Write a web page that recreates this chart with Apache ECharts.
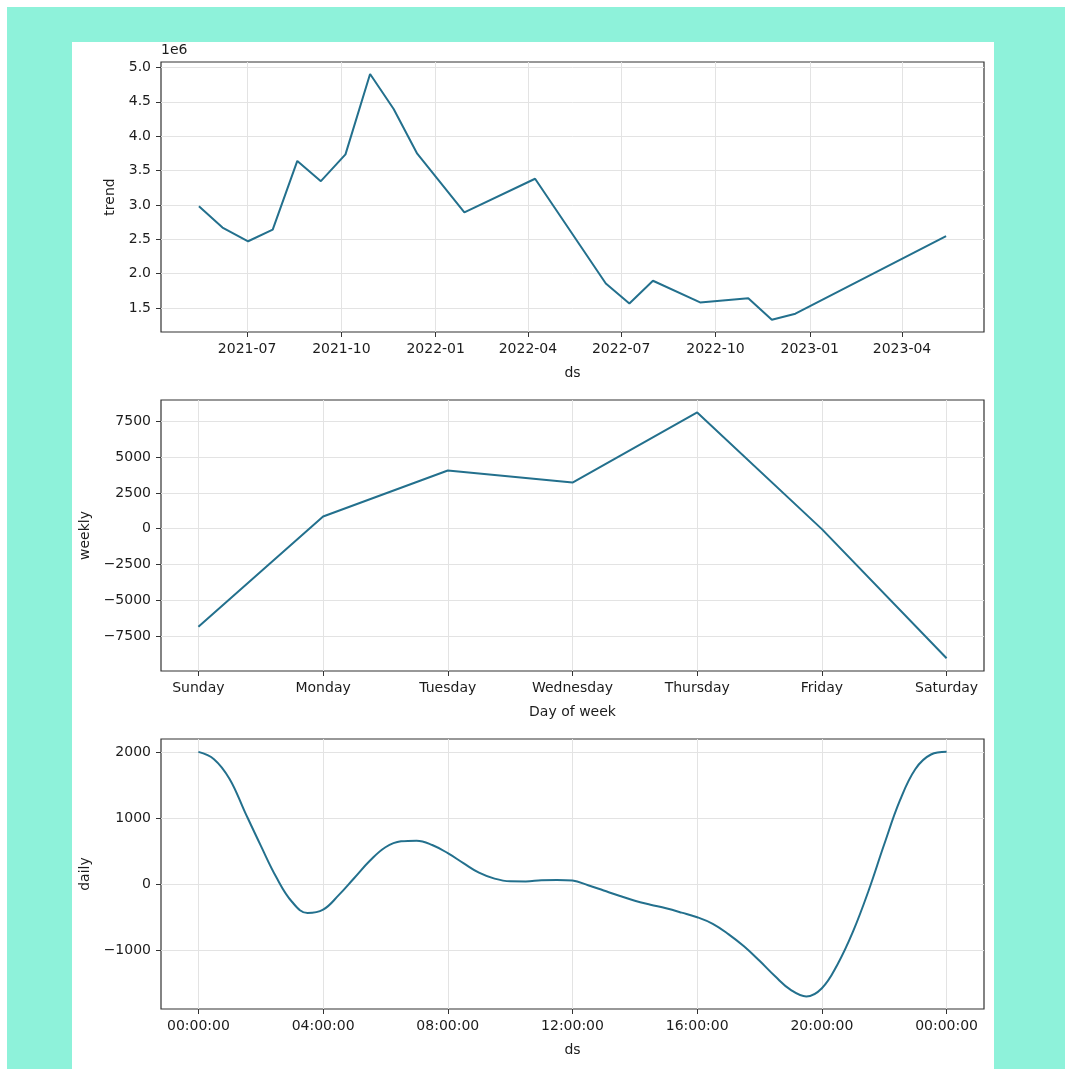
<!DOCTYPE html>
<html lang="en">
<head>
    <meta charset="UTF-8">
    <title>Prophet components</title>
    <script src="https://cdn.jsdelivr.net/npm/echarts@6/dist/echarts.min.js"></script>
    <style>
        html, body {
            margin: 0;
            width: 1065px;
            height: 1069px;
            background: #ffffff;
            overflow: hidden;
        }
        /* teal backdrop + white card behind the chart */
        .teal {
            position: absolute;
            left: 7px; top: 7px; right: 0; bottom: 0;
            background: #8ef2da;
        }
        .card {
            position: absolute;
            left: 72px; top: 42px;
            width: 922px; height: 1027px;
            background: #ffffff;
        }
        #main {
            position: absolute;
            left: 0; top: 0;
            width: 1065px;
            height: 1069px;
        }
    </style>
</head>
<body>
    <div class="teal"></div>
    <div class="card"></div>
    <div id="main"></div>

    <script>
        // trend (changepoint trend, units of 1e6)
        var trendDates = ['2021-05-15', '2021-06-07', '2021-07-02', '2021-07-26', '2021-08-19',
            '2021-09-11', '2021-10-05', '2021-10-29', '2021-11-21', '2021-12-14', '2022-01-29',
            '2022-04-08', '2022-06-16', '2022-07-09', '2022-08-01', '2022-09-16', '2022-11-02',
            '2022-11-25', '2022-12-18', '2023-05-14'];
        var trendValues = [2.98, 2.67, 2.47, 2.64, 3.64, 3.345, 3.735, 4.905, 4.395, 3.745, 2.89,
            3.38, 1.855, 1.565, 1.895, 1.58, 1.64, 1.328, 1.415, 2.545];
        var trendTicks = ['2021-07-01', '2021-10-01', '2022-01-01', '2022-04-01', '2022-07-01',
            '2022-10-01', '2023-01-01', '2023-04-01'];
        var trendYTicks = [1.5, 2.0, 2.5, 3.0, 3.5, 4.0, 4.5, 5.0];

        // weekly seasonality
        var weekDays = ['Sunday', 'Monday', 'Tuesday', 'Wednesday', 'Thursday', 'Friday', 'Saturday'];
        var weeklyValues = [-6850, 850, 4070, 3230, 8130, -30, -9060];
        var weeklyYTicks = [-7500, -5000, -2500, 0, 2500, 5000, 7500];

        // daily seasonality, sampled every half hour
        var dailyHours = [0, 0.5, 1, 1.5, 2, 2.5, 3, 3.5, 4, 4.5, 5, 5.5, 6, 6.5, 7, 7.5, 8, 8.5,
            9, 9.5, 10, 10.5, 11, 11.5, 12, 12.5, 13, 13.5, 14, 14.5, 15, 15.5, 16, 16.5, 17, 17.5,
            18, 18.5, 19, 19.5, 20, 20.5, 21, 21.5, 22, 22.5, 23, 23.5, 24];
        var dailyValues = [2000, 1890, 1590, 1080, 580, 100, -270, -440, -390, -170, 90, 350,
            555, 645, 655, 590, 465, 315, 170, 80, 40, 38, 55, 60, 50, -20, -100, -180, -255, -315,
            -370, -435, -505, -605, -760, -945, -1165, -1400, -1605, -1705, -1580, -1220, -720,
            -100, 600, 1260, 1740, 1960, 2000];
        var dailyXTicks = [0, 4, 8, 12, 16, 20, 24];
        var dailyYTicks = [-1000, 0, 1000, 2000];

        function ts(s) {
            var p = s.split('-');
            return new Date(+p[0], +p[1] - 1, +p[2]).getTime();
        }
        function pad(n) { return (n < 10 ? '0' : '') + n; }

        var FONT = 'DejaVu Sans';
        var TXT = '#1c1c1c';
        var LINE = '#23708d';
        var GRIDC = '#e3e3e3';

        var chart = echarts.init(document.getElementById('main'), null, { renderer: 'canvas' });

        // shared axis pieces
        function axisBase(extra) {
            var a = {
                axisLine: { show: false, onZero: false },
                axisTick: { show: true, length: 5, lineStyle: { color: '#333', width: 1 } },
                axisLabel: { color: TXT, fontFamily: FONT, fontSize: 14, margin: 10 },
                splitLine: { show: true, lineStyle: { color: GRIDC, width: 1 } },
                nameTextStyle: { color: TXT, fontFamily: FONT, fontSize: 14 },
                nameLocation: 'middle'
            };
            for (var k in extra) {
                if (typeof extra[k] === 'object' && a[k] && !Array.isArray(extra[k])) {
                    a[k] = Object.assign({}, a[k], extra[k]);
                } else {
                    a[k] = extra[k];
                }
            }
            return a;
        }

        var gridBox = { show: true, borderColor: '#333', borderWidth: 1.2, backgroundColor: 'transparent' };
        // dates go on a plain value axis (ms) so the quarter ticks can be placed exactly
        var tickTs = trendTicks.map(ts);
        var trendY1e6 = trendYTicks.map(function (v) { return v * 1e6; });

        var option = {
            animation: false,
            backgroundColor: 'transparent',
            title: {
                text: '1e6',
                left: 161, top: 43, padding: 0,
                textStyle: { fontFamily: FONT, fontSize: 14, fontWeight: 'normal', color: TXT }
            },
            grid: [
                Object.assign({ left: 161, top: 62, width: 823, height: 270 }, gridBox),
                Object.assign({ left: 161, top: 400, width: 823, height: 271 }, gridBox),
                Object.assign({ left: 161, top: 739, width: 823, height: 270 }, gridBox)
            ],
            xAxis: [
                axisBase({
                    gridIndex: 0, type: 'value', name: 'ds', nameGap: 34,
                    min: ts('2021-04-08'), max: ts('2023-06-20'),
                    axisTick: { customValues: tickTs },
                    axisLabel: {
                        customValues: tickTs,
                        formatter: function (v) {
                            var d = new Date(v);
                            return d.getFullYear() + '-' + pad(d.getMonth() + 1);
                        }
                    }
                }),
                axisBase({
                    gridIndex: 1, type: 'value', name: 'Day of week', nameGap: 34,
                    min: -0.3, max: 6.3,
                    axisTick: { customValues: [0, 1, 2, 3, 4, 5, 6] },
                    axisLabel: {
                        customValues: [0, 1, 2, 3, 4, 5, 6],
                        formatter: function (v) { return weekDays[Math.round(v)]; }
                    }
                }),
                axisBase({
                    gridIndex: 2, type: 'value', name: 'ds', nameGap: 34,
                    min: -1.2, max: 25.2,
                    axisTick: { customValues: dailyXTicks },
                    axisLabel: {
                        customValues: dailyXTicks,
                        formatter: function (v) { return pad(Math.round(v) % 24) + ':00:00'; }
                    }
                })
            ],
            yAxis: [
                axisBase({
                    gridIndex: 0, type: 'value', name: 'trend', nameGap: 38,
                    min: 1.149e6, max: 5.08e6,
                    axisTick: { customValues: trendY1e6 },
                    axisLabel: {
                        customValues: trendY1e6,
                        formatter: function (v) { return (v / 1e6).toFixed(1); }
                    }
                }),
                axisBase({
                    gridIndex: 1, type: 'value', name: 'weekly', nameGap: 61,
                    min: -9950, max: 9000,
                    axisTick: { customValues: weeklyYTicks },
                    axisLabel: {
                        customValues: weeklyYTicks,
                        formatter: function (v) { return v < 0 ? '\u2212' + (-v) : String(v); }
                    }
                }),
                axisBase({
                    gridIndex: 2, type: 'value', name: 'daily', nameGap: 61,
                    min: -1895, max: 2195,
                    axisTick: { customValues: dailyYTicks },
                    axisLabel: {
                        customValues: dailyYTicks,
                        formatter: function (v) { return v < 0 ? '\u2212' + (-v) : String(v); }
                    }
                })
            ],
            series: [
                {
                    type: 'line', xAxisIndex: 0, yAxisIndex: 0, showSymbol: false,
                    lineStyle: { color: LINE, width: 2 },
                    data: trendDates.map(function (d, i) { return [ts(d), trendValues[i] * 1e6]; })
                },
                {
                    type: 'line', xAxisIndex: 1, yAxisIndex: 1, showSymbol: false,
                    lineStyle: { color: LINE, width: 2 },
                    data: weeklyValues.map(function (v, i) { return [i, v]; })
                },
                {
                    type: 'line', xAxisIndex: 2, yAxisIndex: 2, showSymbol: false, smooth: 0.4,
                    lineStyle: { color: LINE, width: 2 },
                    data: dailyHours.map(function (h, i) { return [h, dailyValues[i]]; })
                }
            ]
        };

        chart.setOption(option);
    </script>
</body>
</html>
